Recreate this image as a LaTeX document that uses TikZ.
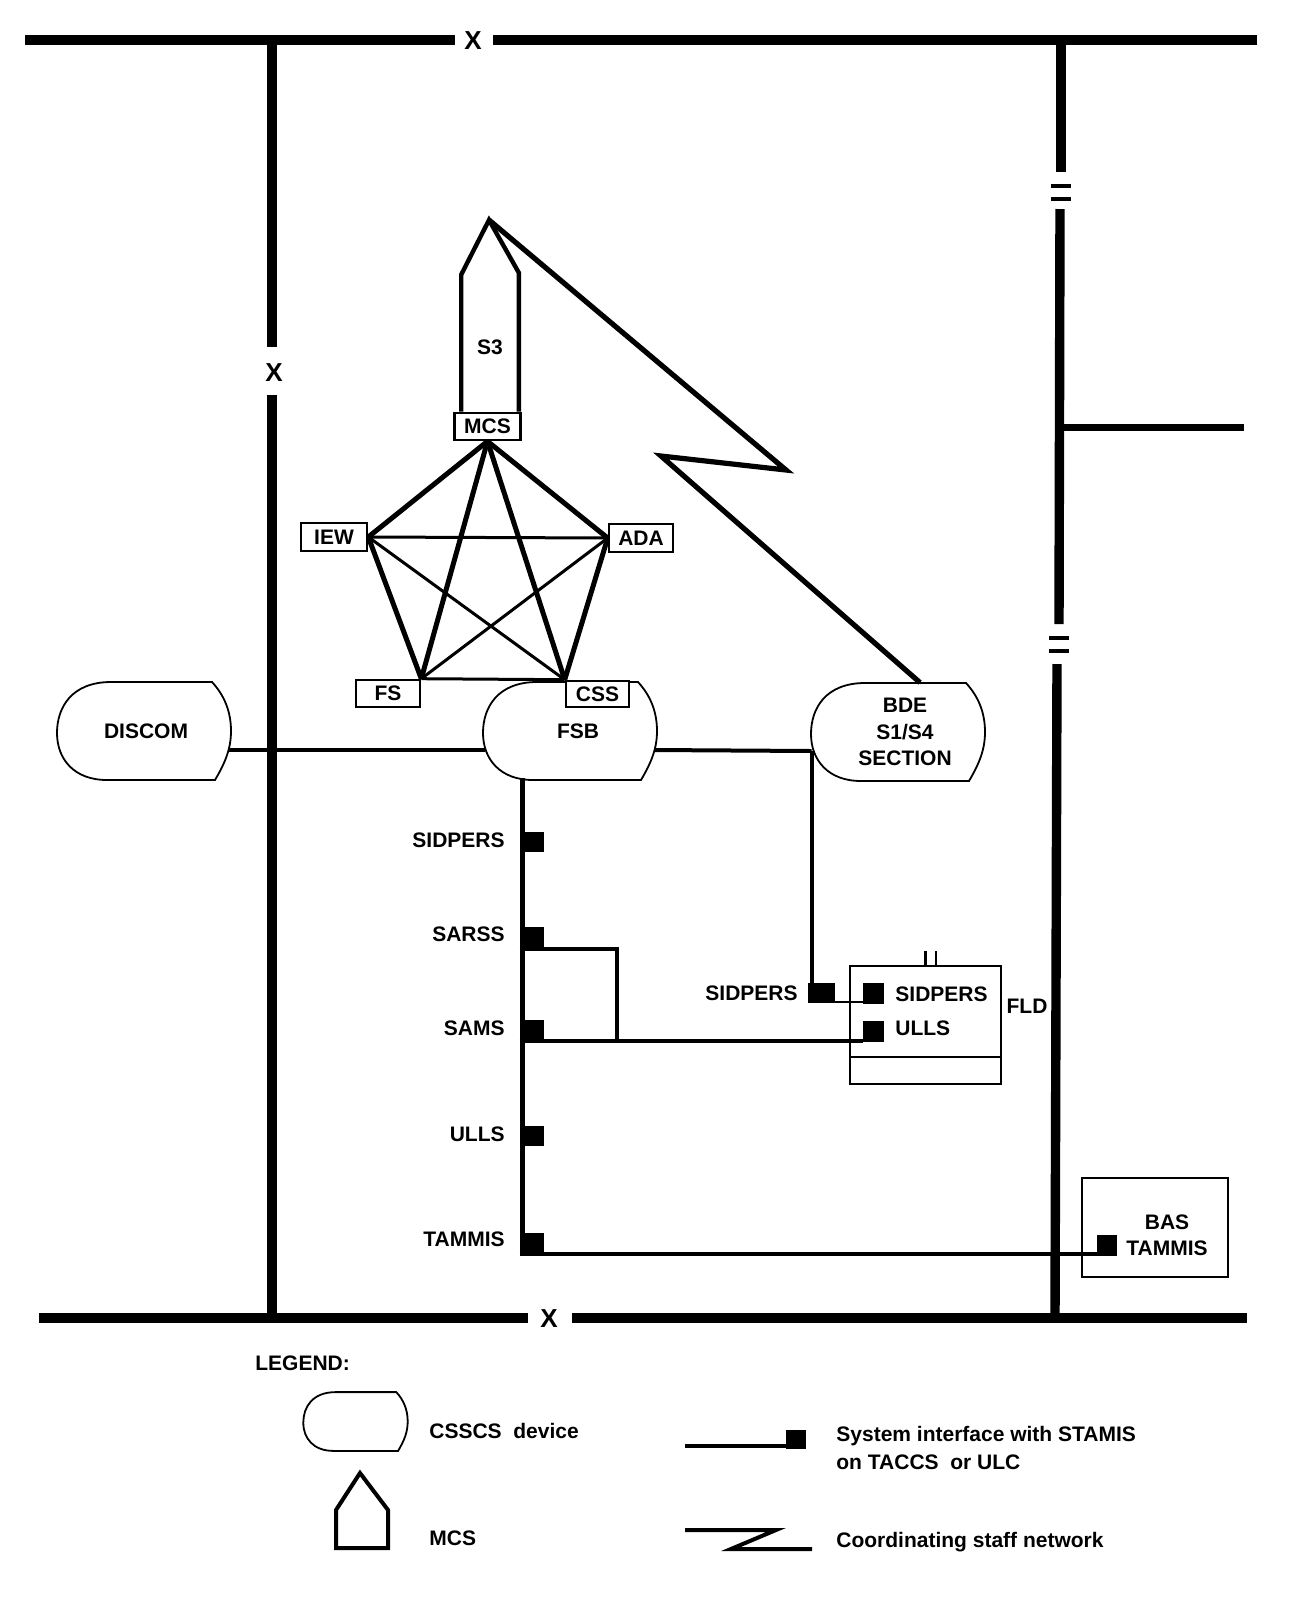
\documentclass[tikz,border=0pt]{standalone}
\usepackage{fontspec}
\setmainfont{Liberation Sans}
\usetikzlibrary{calc}
\begin{document}
\begin{tikzpicture}[x=0.5pt,y=-0.5pt,
  every node/.style={font=\fontsize{10.5}{13.2}\selectfont\bfseries, inner sep=0pt},
  bar/.style={line width=4.7pt},
  xmark/.style={font=\fontsize{13}{13}\selectfont\bfseries},
  tbox/.style={draw, line width=1.3pt, fill=white, inner sep=0pt},
  sq/.style={fill=black, inner sep=0pt},
  thk/.style={line width=2.5pt},
  thn/.style={line width=1.5pt},
  link/.style={line width=2pt},
  devline/.style={line width=0.9pt},
  dev/.style={minimum width=87pt, minimum height=49pt, align=center},
  csscs/.pic={\draw[devline] (68,-49) -- (-33,-49) .. controls (-72,-49) and (-87,-24) .. (-87,2) .. controls (-87,28) and (-70,49) .. (-37,49) -- (71,49) .. controls (81,32) and (87,18) .. (87,0) .. controls (87,-20) and (80,-36) .. (68,-49) -- cycle;}
]
\useasboundingbox (0,0) rectangle (1299,1602);

% boundaries
\draw[bar] (25,40) -- (455,40);
\draw[bar] (493,40) -- (1257,40);
\node[xmark] (xTop) at (473,41) {X};
\draw[bar] (39,1318) -- (528,1318);
\draw[bar] (572,1318) -- (1247,1318);
\node[xmark] (xBot) at (549,1319) {X};
\draw[bar] (272,40) -- (272,347);
\draw[bar] (272,395) -- (272,1318);
\node[xmark] (xLeft) at (274,373) {X};

% devices
\node[dev] (discom) at (144,731) {\hspace*{2pt}DISCOM};
\node[dev] (fsb) at (570,731) {\hspace*{8pt}FSB};
\node[dev] (bde) at (898,732) {\hspace*{7pt}BDE\\\hspace*{7pt}S1/S4\\\hspace*{7pt}SECTION};
\pic at (discom) {csscs};
\pic at (fsb) {csscs};
\pic at (bde) {csscs};

% MCS pentagon
\node[tbox, minimum width=33pt, minimum height=13.5pt] (mcs) at (487.5,426.5) {MCS};
\node[tbox, minimum width=33pt, minimum height=14pt] (iew) at (334,537) {IEW};
\node[tbox, minimum width=32pt, minimum height=14pt] (ada) at (641,538) {ADA};
\node[tbox, minimum width=32pt, minimum height=13.5pt] (fs) at (388,693.5) {FS};
\node[tbox, minimum width=31.5pt, minimum height=13pt] (css) at (597.5,694) {CSS};
\node (s3) at (490,347) {S3};

\coordinate (apex) at (489,220);
\draw[line width=2.2pt] ($(mcs.north west)+(8,0)$) -- ++(0,-137) -- (apex) -- ($(mcs.north east)+(-3,-139)$) -- ($(mcs.north east)+(-3,0)$);

\draw[thk] (mcs.south) -- (iew.east);
\draw[thk] (mcs.south) -- (ada.west);
\draw[thk] (mcs.south) -- (fs.north east);
\draw[thk] (mcs.south) -- (css.north west);
\draw[thk] (iew.east) -- (fs.north east);
\draw[thk] (ada.west) -- (css.north west);
\draw[thn] (iew.east) -- (ada.west);
\draw[thn] (fs.north east) -- (css.north west);
\draw[thn] (iew.east) -- (css.north west);
\draw[thn] (ada.west) -- (fs.north east);

% coordinating staff network
\coordinate (zA) at (786,470);
\coordinate (zB) at (661,456);
\draw[line width=2.6pt] (apex) -- (zA) -- (zB) -- ($(bde.north)+(22,0)$);

% links between devices
\draw[link] ($(discom.east)+(-3,19)$) -- ($(fsb.west)+(2,19)$);
\draw[link] ($(fsb.east)+(-3,19)$) -- ($(bde.west)+(1,19)$);

% STAMIS interfaces on the bus
\node[sq, minimum width=12pt, minimum height=10pt] (sqSid) at (532,842) {};
\node[sq, minimum width=12pt, minimum height=11.5pt] (sqSarss) at (532,938.5) {};
\node[sq, minimum width=12pt, minimum height=11pt] (sqSams) at (532,1031) {};
\node[sq, minimum width=12pt, minimum height=10pt] (sqUlls) at (532,1136) {};
\node[sq, minimum width=12pt, minimum height=11pt] (sqTam) at (532,1244) {};
\node[anchor=east] (labSid) at (505,840) {SIDPERS};
\node[anchor=east] (labSarss) at (505,934) {SARSS};
\node[anchor=east] (labSams) at (505,1028) {SAMS};
\node[anchor=east] (labUlls) at (505,1134) {ULLS};
\node[anchor=east] (labTam) at (505,1239) {TAMMIS};

\coordinate (busTop) at ($(fsb.south)+(-47.5,-2)$);
\draw[line width=2.5pt] (busTop) -- (busTop |- sqTam.south);

% FLD
\node[draw, line width=1.2pt, minimum width=75.5pt, minimum height=59pt] (fld) at (925.5,1025) {};
\draw[line width=1.2pt] ($(fld.south west)+(0,-28)$) -- ($(fld.south east)+(0,-28)$);
\draw[line width=1.1pt] (fld.north) -- ++(0,-14);
\draw[line width=1.1pt] ($(fld.north)+(10.5,0)$) -- ++(0,-14);
\node[anchor=west] (fldLab) at ($(fld.east)+(4,-19)$) {FLD};
\node[sq, minimum width=10.5pt, minimum height=10.5pt] (sqSidIn) at (873.5,993.5) {};
\node[sq, minimum width=10.5pt, minimum height=10.5pt] (sqUllsIn) at (873.5,1031) {};
\node[anchor=west] (tSidIn) at (895,994) {SIDPERS};
\node[anchor=west] (tUllsIn) at (895,1028) {ULLS};
\node[sq, minimum width=13.5pt, minimum height=10pt] (sqO) at (821.5,993) {};
\node[anchor=east] (labSidO) at (798,993) {SIDPERS};

\coordinate (bdeL) at ($(bde.west)+(1,19)$);
\draw[link] (bdeL) -- (bdeL |- sqO.north);
\draw[line width=1pt] ($(sqO.south east)+(0,-1)$) coordinate (sidL) -- (sidL -| sqSidIn.west);

\coordinate (loopR) at ($(sqSams.south west)+(97,-1)$);
\draw[link] ($(sqSarss.south west)+(0,-1)$) -| (loopR);
\draw[link] ($(sqSams.south west)+(0,-1)$) coordinate (samsL) -- (samsL -| sqUllsIn.west);

% BAS TAMMIS
\node[draw, line width=1.2pt, minimum width=73pt, minimum height=49.5pt] (bas) at (1155,1227.5) {};
\node[align=center] (basT) at (1167,1235) {BAS\\TAMMIS};
\node[sq, minimum width=10pt, minimum height=10.5pt] (sqBas) at (1107,1245.5) {};
\draw[link] ($(sqTam.south west)+(0,-1.5)$) coordinate (tamL) -- (tamL -| sqBas.west);

% right boundary
\draw[bar] (1061,40) -- (1061,172);
\draw[line width=2pt] (1051,186) -- (1071,186);
\draw[line width=2pt] (1051,199) -- (1071,199);
\draw[bar] (1060,209) -- (1059,624);
\draw[line width=2pt] (1049,638) -- (1069,638);
\draw[line width=2pt] (1049,651) -- (1069,651);
\draw[bar] (1057,664) -- (1055,1318);
\draw[line width=3.5pt] (1060,427) -- (1244,427);

% legend
\node[anchor=west] (legTitle) at (255,1363) {LEGEND:};
\coordinate (legDev) at (355.5,1421.5);
\pic[scale=0.6] at (legDev) {csscs};
\node[anchor=west] (legDevT) at (429,1431) {CSSCS\ \ device};
\draw[line width=2pt] (336,1548) -- (336,1510) -- (360,1473) -- (388,1510) -- (388,1548) -- cycle;
\node[anchor=west] (legMcsT) at (429,1538) {MCS};
\node[sq, minimum width=10pt, minimum height=9.5pt] (sqLeg) at (796,1439) {};
\coordinate (legL) at (685,1446);
\draw[line width=2pt] (legL) -- (legL -| sqLeg.west);
\node[anchor=west, align=left, font=\fontsize{10.5}{14}\selectfont\bfseries] (legSysT) at (836,1448) {System interface with STAMIS\\on TACCS\ \ or ULC};
\draw[line width=2pt] (685,1530) -- (776,1530) -- (731,1549) -- (812,1549);
\node[anchor=west] (legZT) at (836,1542) {Coordinating staff network};
\end{tikzpicture}
\end{document}
